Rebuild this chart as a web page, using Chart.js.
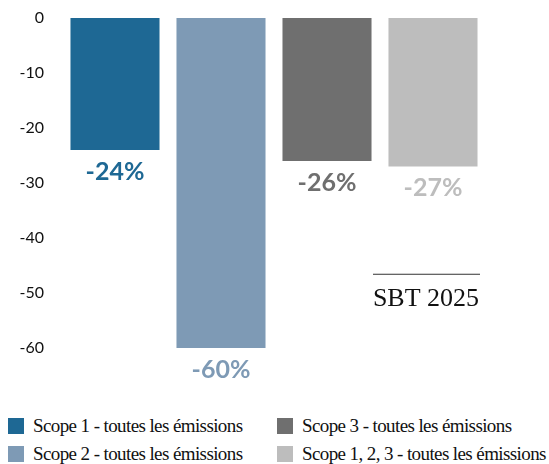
<!DOCTYPE html>
<html>
<head>
<meta charset="utf-8">
<script src="https://cdn.jsdelivr.net/npm/chart.js@4/dist/chart.umd.min.js"></script>
<style>
  html, body { margin: 0; padding: 0; background: #fff; }
  #wrap { position: relative; width: 549px; height: 400px; }
  #legend { position: absolute; left: 8px; top: 417px; width: 541px;
    display: grid; grid-template-columns: 269px 260px; row-gap: 11px;
    font-family: "Liberation Serif", serif; font-size: 19px; color: #111; letter-spacing: -0.6px; }
  .item { display: flex; align-items: center; height: 17px; white-space: nowrap; }
  .box { width: 16px; height: 16px; margin-right: 9px; flex: none; }
</style>
</head>
<body>
<div id="wrap"><canvas id="chart" width="549" height="400"></canvas></div>
<div id="legend"></div>
<script>
// Emission cuts per scope (%)
const scopes = ['Scope 1 - toutes les émissions', 'Scope 2 - toutes les émissions',
  'Scope 3 - toutes les émissions', 'Scope 1, 2, 3 - toutes les émissions'];
const reductions = [-24, -60, -26, -27];
const colors = ['#1e6894', '#7e9ab5', '#6f6f6f', '#bdbdbd'];
const yTicks = [0, -10, -20, -30, -40, -50, -60];
// SBT 2025 marker, drawn over the last column
const sbtLabel = 'SBT 2025';
const sbtValue = -46.5;

// legend in two columns: 1 & 3 on top, 2 & 1,2,3 below
const legendOrder = [0, 2, 1, 3];
const legend = document.getElementById('legend');
legendOrder.forEach(i => {
  const el = document.createElement('div');
  el.className = 'item';
  el.innerHTML = '<span class="box" style="background:' + colors[i] + '"></span>' + scopes[i];
  legend.appendChild(el);
});

const valueLabels = {
  id: 'valueLabels',
  afterDatasetsDraw(chart) {
    const ctx = chart.ctx;
    const meta = chart.getDatasetMeta(0);
    ctx.save();
    ctx.font = 'bold 25px Lato, sans-serif';
    ctx.textAlign = 'center';
    ctx.textBaseline = 'top';
    meta.data.forEach((bar, i) => {
      ctx.fillStyle = colors[i];
      ctx.fillText(reductions[i] + '%', bar.x, bar.y + 9);
    });

    // SBT 2025 line + label
    const last = meta.data[meta.data.length - 1];
    const y = chart.scales.y.getPixelForValue(sbtValue);
    ctx.strokeStyle = '#333';
    ctx.lineWidth = 1;
    ctx.beginPath();
    ctx.moveTo(last.x - 60, y + 0.5);
    ctx.lineTo(last.x + 47, y + 0.5);
    ctx.stroke();
    ctx.fillStyle = '#111';
    ctx.font = '26px "Liberation Serif", serif';
    ctx.textBaseline = 'middle';
    ctx.fillText(sbtLabel, last.x - 7, y + 25);
    ctx.restore();
  }
};

new Chart(document.getElementById('chart'), {
  type: 'bar',
  data: {
    labels: scopes,
    datasets: [{
      data: reductions,
      backgroundColor: colors,
      categoryPercentage: 1,
      barPercentage: 0.84
    }]
  },
  options: {
    responsive: false,
    animation: false,
    layout: { padding: { top: 18, right: 63, bottom: 52, left: 0 } },
    plugins: { legend: { display: false }, tooltip: { enabled: false } },
    scales: {
      x: { display: false },
      y: {
        min: -60, max: 0,
        afterFit(scale) {
          scale.width = 62;
          scale.paddingTop = 0;
          scale.paddingBottom = 0;
        },
        afterBuildTicks(scale) { scale.ticks = yTicks.map(v => ({ value: v })); },
        grid: { display: false, drawTicks: false },
        border: { display: false },
        ticks: { color: '#111', padding: 18, font: { family: 'Lato, sans-serif', size: 16 } }
      }
    }
  },
  plugins: [valueLabels]
});
</script>
</body>
</html>
